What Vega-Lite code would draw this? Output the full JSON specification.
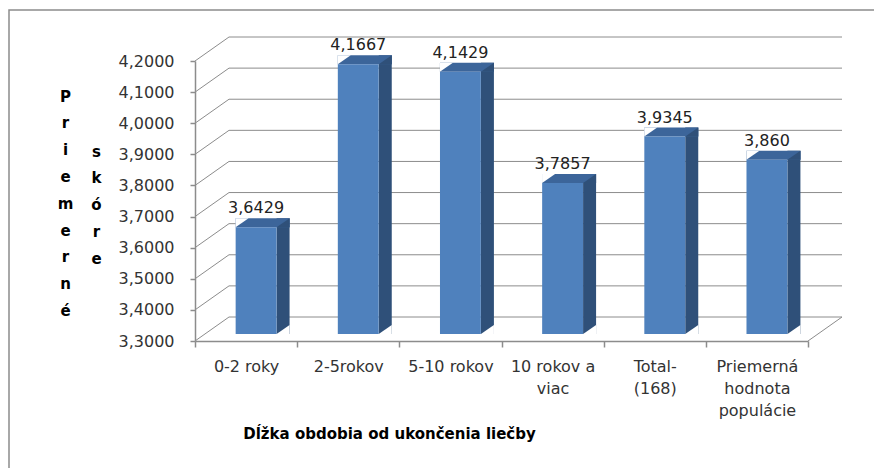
{
  "$schema": "https://vega.github.io/schema/vega-lite/v6.json",
  "width": 867,
  "height": 461,
  "autosize": {"type": "none"},
  "padding": {"left": 9, "top": 10, "right": -2, "bottom": -3},
  "background": "white",
  "config": {
    "view": {"stroke": "#8c8c8c", "strokeWidth": 1.5},
    "font": "DejaVu Sans"
  },
  "datasets": {
    "bars": [
      {"obdobie": "0-2 roky", "skore": 3.6429, "label": "3,6429"},
      {"obdobie": "2-5rokov", "skore": 4.1667, "label": "4,1667"},
      {"obdobie": "5-10 rokov", "skore": 4.1429, "label": "4,1429"},
      {"obdobie": "10 rokov a viac", "skore": 3.7857, "label": "3,7857"},
      {"obdobie": "Total-(168)", "skore": 3.9345, "label": "3,9345"},
      {"obdobie": "Priemerná hodnota populácie", "skore": 3.86, "label": "3,860"}
    ],
    "ticks": [
      {"v": 3.3}, {"v": 3.4}, {"v": 3.5}, {"v": 3.6}, {"v": 3.7},
      {"v": 3.8}, {"v": 3.9}, {"v": 4.0}, {"v": 4.1}, {"v": 4.2}
    ]
  },
  "resolve": {
    "scale": {"x": "independent"},
    "axis": {"x": "independent", "y": "independent"}
  },
  "layer": [
    {
      "data": {"name": "ticks"},
      "mark": {"type": "rule", "color": "#8c8c8c", "strokeWidth": 1, "xOffset": 34, "x2Offset": 34, "yOffset": -24},
      "encoding": {
        "x": {"datum": 0, "type": "quantitative", "scale": {"domain": [0, 6], "range": [186, 799], "nice": false, "zero": false}, "axis": null},
        "x2": {"datum": 6},
        "y": {
          "field": "v", "type": "quantitative",
          "scale": {"domain": [3.3, 4.2], "range": [331, 51], "nice": false, "zero": false},
          "axis": {
            "orient": "left", "offset": -186, "labels": false, "ticks": false, "domain": false, "grid": false,
            "title": ["s", "k", "ó", "r", "e"],
            "titleAngle": 0, "titleX": -99, "titleY": 134, "titleAlign": "center", "titleBaseline": "top",
            "titleLineHeight": 26.8, "titleFont": "DejaVu Sans", "titleFontSize": 15, "titleFontWeight": "bold", "titleColor": "#000000"
          }
        }
      }
    },
    {
      "data": {"name": "ticks"},
      "mark": {"type": "rule", "color": "#8c8c8c", "strokeWidth": 1, "x2Offset": 34, "y2Offset": -24},
      "encoding": {
        "x": {"datum": 0, "type": "quantitative", "scale": {"domain": [0, 6], "range": [186, 799], "nice": false, "zero": false}, "axis": null},
        "x2": {"datum": 0},
        "y": {"field": "v", "type": "quantitative", "scale": {"domain": [3.3, 4.2], "range": [331, 51], "nice": false, "zero": false}, "axis": null},
        "y2": {"field": "v"}
      }
    },
    {
      "data": {"name": "ticks"},
      "transform": [{"filter": "datum.v == 3.3"}],
      "mark": {"type": "rule", "color": "#8c8c8c", "strokeWidth": 1, "x2Offset": 34, "y2Offset": -24},
      "encoding": {
        "x": {"datum": 6, "type": "quantitative", "scale": {"domain": [0, 6], "range": [186, 799], "nice": false, "zero": false}, "axis": null},
        "x2": {"datum": 6},
        "y": {"field": "v", "type": "quantitative", "scale": {"domain": [3.3, 4.2], "range": [331, 51], "nice": false, "zero": false}, "axis": null},
        "y2": {"field": "v"}
      }
    },
    {
      "data": {"name": "bars"},
      "mark": {"type": "bar", "color": "#2F5079", "width": 13, "xOffset": 37, "yOffset": -16, "y2Offset": -7},
      "encoding": {
        "x": {"field": "obdobie", "type": "nominal", "sort": null, "scale": {"range": [186, 799], "paddingInner": 0, "paddingOuter": 0}, "axis": null},
        "y": {"field": "skore", "type": "quantitative", "scale": {"domain": [3.3, 4.2], "range": [331, 51], "nice": false, "zero": false}, "axis": null},
        "y2": {"datum": 3.3}
      }
    },
    {
      "data": {"name": "bars"},
      "mark": {"type": "bar", "color": "#3C659A", "width": 54, "xOffset": 16.5, "yOffset": -16, "y2Offset": -7},
      "encoding": {
        "x": {"field": "obdobie", "type": "nominal", "sort": null, "scale": {"range": [186, 799], "paddingInner": 0, "paddingOuter": 0}, "axis": null},
        "y": {"field": "skore", "type": "quantitative", "scale": {"domain": [3.3, 4.2], "range": [331, 51], "nice": false, "zero": false}, "axis": null},
        "y2": {"field": "skore"}
      }
    },
    {
      "data": {"name": "bars"},
      "mark": {"type": "point", "shape": "M0,0L2,0L2,-1.385Z", "size": 169, "filled": true, "opacity": 1, "color": "#2F5079", "strokeWidth": 0, "xOffset": 30.5, "yOffset": -7},
      "encoding": {
        "x": {"field": "obdobie", "type": "nominal", "sort": null, "scale": {"range": [186, 799], "paddingInner": 0, "paddingOuter": 0}, "axis": null},
        "y": {"field": "skore", "type": "quantitative", "scale": {"domain": [3.3, 4.2], "range": [331, 51], "nice": false, "zero": false}, "axis": null}
      }
    },
    {
      "data": {"name": "bars"},
      "mark": {"type": "point", "shape": "M0,0L0,-1.385L2,-1.385Z", "size": 169, "filled": true, "opacity": 1, "color": "#ffffff", "strokeWidth": 0, "xOffset": -10.5, "yOffset": -7},
      "encoding": {
        "x": {"field": "obdobie", "type": "nominal", "sort": null, "scale": {"range": [186, 799], "paddingInner": 0, "paddingOuter": 0}, "axis": null},
        "y": {"field": "skore", "type": "quantitative", "scale": {"domain": [3.3, 4.2], "range": [331, 51], "nice": false, "zero": false}, "axis": null}
      }
    },
    {
      "data": {"name": "bars"},
      "mark": {"type": "point", "shape": "M0,0L2,0L2,-1.385Z", "size": 169, "filled": true, "opacity": 1, "color": "#ffffff", "strokeWidth": 0, "xOffset": 30.5, "yOffset": -7},
      "encoding": {
        "x": {"field": "obdobie", "type": "nominal", "sort": null, "scale": {"range": [186, 799], "paddingInner": 0, "paddingOuter": 0}, "axis": null},
        "y": {"datum": 3.3, "type": "quantitative", "scale": {"domain": [3.3, 4.2], "range": [331, 51], "nice": false, "zero": false}, "axis": null}
      }
    },
    {
      "data": {"name": "bars"},
      "mark": {"type": "bar", "color": "#4F81BD", "width": {"band": 0.4}, "xOffset": 10, "yOffset": -7, "y2Offset": -7},
      "encoding": {
        "x": {
          "field": "obdobie", "type": "nominal", "sort": null,
          "scale": {"range": [186, 799], "paddingInner": 0, "paddingOuter": 0},
          "axis": {
            "orient": "bottom", "offset": -130, "tickBand": "extent", "tickSize": 6, "tickColor": "#8c8c8c", "tickWidth": 1.5,
            "domainColor": "#8c8c8c", "domainWidth": 1.5, "grid": false,
            "labelAngle": 0, "labelPadding": 11, "labelBaseline": "top", "labelLineHeight": 22, "labelFont": "DejaVu Sans",
            "labelFontSize": 16, "labelColor": "#333333", "labelOverlap": false, "labelLimit": 200,
            "labelExpr": "datum.value == '10 rokov a viac' ? ['10 rokov a', 'viac'] : datum.value == 'Total-(168)' ? ['Total-', '(168)'] : datum.value == 'Priemerná hodnota populácie' ? ['Priemerná', 'hodnota', 'populácie'] : datum.value",
            "title": "Dĺžka obdobia od ukončenia liečby",
            "titleX": 380, "titleY": 97, "titleAlign": "center", "titleBaseline": "alphabetic",
            "titleFont": "DejaVu Sans", "titleFontSize": 15, "titleFontWeight": "bold", "titleColor": "#000000"
          }
        },
        "y": {
          "field": "skore", "type": "quantitative",
          "scale": {"domain": [3.3, 4.2], "range": [331, 51], "nice": false, "zero": false},
          "axis": {
            "orient": "left", "offset": -186,
            "values": [3.3, 3.4, 3.5, 3.6, 3.7, 3.8, 3.9, 4.0, 4.1, 4.2],
            "labelExpr": "replace(format(datum.value, '.4f'), '.', ',')",
            "labelFont": "DejaVu Sans", "labelFontSize": 16, "labelColor": "#333333", "labelPadding": 16,
            "tickSize": 5, "tickColor": "#8c8c8c", "tickWidth": 1.5,
            "domainColor": "#8c8c8c", "domainWidth": 1.5, "grid": false,
            "title": ["P", "r", "i", "e", "m", "e", "r", "n", "é"],
            "titleAngle": 0, "titleX": -130, "titleY": 79, "titleAlign": "center", "titleBaseline": "top",
            "titleLineHeight": 26.8, "titleFont": "DejaVu Sans", "titleFontSize": 15, "titleFontWeight": "bold", "titleColor": "#000000"
          }
        },
        "y2": {"datum": 3.3}
      }
    },
    {
      "data": {"name": "bars"},
      "mark": {"type": "text", "font": "DejaVu Sans", "fontSize": 16, "color": "#222222", "baseline": "alphabetic", "align": "center", "xOffset": 10, "yOffset": -21},
      "encoding": {
        "x": {"field": "obdobie", "type": "nominal", "sort": null, "scale": {"range": [186, 799], "paddingInner": 0, "paddingOuter": 0}, "axis": null},
        "y": {"field": "skore", "type": "quantitative", "scale": {"domain": [3.3, 4.2], "range": [331, 51], "nice": false, "zero": false}, "axis": null},
        "text": {"field": "label"}
      }
    }
  ]
}
